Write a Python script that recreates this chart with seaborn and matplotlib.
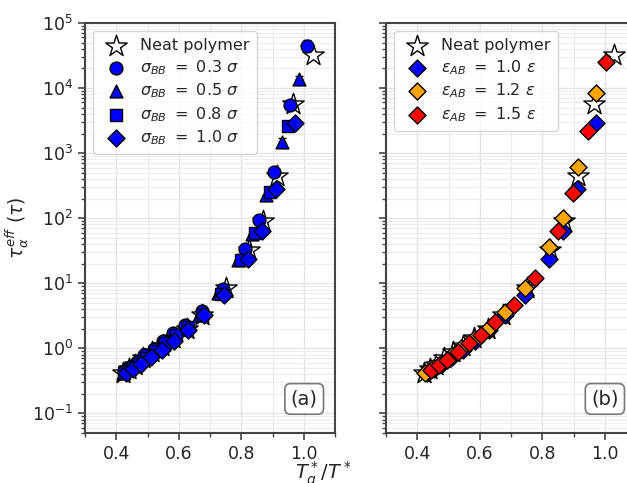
import matplotlib
matplotlib.use("Agg")
import matplotlib.pyplot as plt
import seaborn as sns
import numpy as np
import pandas as pd
from matplotlib.ticker import MultipleLocator, LogLocator, NullFormatter

# ---------------- data ----------------
neat_x = [0.42, 0.44, 0.46, 0.485, 0.515, 0.545, 0.58, 0.625, 0.675, 0.75, 0.825, 0.87, 0.915, 0.965, 1.03]
neat_y = [0.42, 0.48, 0.56, 0.70, 0.88, 1.1, 1.45, 2.0, 3.2, 8.5, 33, 90, 450, 5600, 32000]

s03_x = [0.425, 0.445, 0.465, 0.49, 0.52, 0.55, 0.58, 0.62, 0.675, 0.74, 0.81, 0.855, 0.905, 0.955, 1.01]
s03_y = [0.45, 0.52, 0.62, 0.78, 0.98, 1.3, 1.7, 2.3, 3.8, 8.3, 34, 95, 510, 5400, 45000]
s03_err = [0, 0, 0, 0, 0, 0, 0, 0, 0, 0, 0, 0, 0, 900, 9000]

s05_x = [0.42, 0.44, 0.46, 0.485, 0.51, 0.54, 0.575, 0.615, 0.665, 0.725, 0.79, 0.835, 0.88, 0.93, 0.985]
s05_y = [0.42, 0.48, 0.56, 0.70, 0.88, 1.15, 1.5, 2.0, 3.2, 7.0, 23, 58, 230, 1500, 14000]
s05_err = [0, 0, 0, 0, 0, 0, 0, 0, 0, 0, 0, 0, 0, 200, 1500]

s08_x = [0.425, 0.445, 0.47, 0.495, 0.525, 0.555, 0.59, 0.63, 0.675, 0.735, 0.80, 0.845, 0.89, 0.95]
s08_y = [0.42, 0.48, 0.57, 0.72, 0.90, 1.2, 1.6, 2.1, 3.2, 6.8, 23, 60, 250, 2600]

s10_x = [0.43, 0.455, 0.48, 0.51, 0.545, 0.585, 0.63, 0.68, 0.745, 0.82, 0.865, 0.91, 0.97]
s10_y = [0.42, 0.49, 0.58, 0.74, 0.95, 1.3, 1.9, 3.2, 6.6, 24, 64, 280, 2900]

e12_x = [0.425, 0.45, 0.48, 0.51, 0.54, 0.58, 0.625, 0.68, 0.745, 0.82, 0.865, 0.915, 0.97]
e12_y = [0.42, 0.50, 0.60, 0.78, 1.0, 1.4, 2.0, 3.6, 8.5, 36, 100, 620, 8500]

e15_x = [0.445, 0.47, 0.495, 0.53, 0.565, 0.605, 0.65, 0.71, 0.775, 0.85, 0.897, 0.945, 1.005]
e15_y = [0.46, 0.55, 0.67, 0.87, 1.2, 1.6, 2.5, 4.6, 12, 63, 240, 2200, 25000]

# ---------------- style ----------------
sns.set_style("whitegrid")
plt.rcParams["font.family"] = ["DejaVu Sans"]
plt.rcParams["mathtext.fontset"] = "dejavusans"

fig = plt.figure(figsize=(6.27, 4.83), dpi=100)
axA = fig.add_axes([0.1356, 0.1035, 0.399, 0.849])
axB = fig.add_axes([0.6156, 0.1035, 0.399, 0.849])

MS = 80
STAR = 260


def star(ax, x, y):
    sns.scatterplot(x=x, y=y, ax=ax, marker="*", s=STAR, color="white",
                    edgecolor="black", linewidth=1.0, label="Neat polymer", zorder=3)


def series(ax, x, y, marker, color, label, s=MS, z=4):
    sns.scatterplot(x=x, y=y, ax=ax, marker=marker, s=s, color=color,
                    edgecolor="black", linewidth=1.0, label=label, zorder=z)


# panel (a)
star(axA, neat_x, neat_y)
axA.errorbar(s03_x, s03_y, yerr=[np.zeros(len(s03_err)), s03_err], fmt="none",
             ecolor="black", capsize=3, elinewidth=1, zorder=2)
axA.errorbar(s05_x, s05_y, yerr=[np.zeros(len(s05_err)), s05_err], fmt="none",
             ecolor="black", capsize=3, elinewidth=1, zorder=2)
series(axA, s03_x, s03_y, "o", "blue", r"$\sigma_{BB}\ =\ 0.3\ \sigma$", s=85)
series(axA, s05_x, s05_y, "^", "blue", r"$\sigma_{BB}\ =\ 0.5\ \sigma$", s=85)
series(axA, s08_x, s08_y, "s", "blue", r"$\sigma_{BB}\ =\ 0.8\ \sigma$", s=75)
series(axA, s10_x, s10_y, "D", "blue", r"$\sigma_{BB}\ =\ 1.0\ \sigma$", s=75)

# panel (b)
star(axB, neat_x, neat_y)
series(axB, s10_x, s10_y, "D", "blue", r"$\varepsilon_{AB}\ =\ 1.0\ \varepsilon$", s=75)
series(axB, e12_x, e12_y, "D", "orange", r"$\varepsilon_{AB}\ =\ 1.2\ \varepsilon$", s=75)
series(axB, e15_x, e15_y, "D", "red", r"$\varepsilon_{AB}\ =\ 1.5\ \varepsilon$", s=75)

for ax, tag in [(axA, "(a)"), (axB, "(b)")]:
    ax.set_yscale("log")
    ax.set_xlim(0.3, 1.1)
    ax.set_ylim(0.05, 1e5)
    ax.xaxis.set_major_locator(MultipleLocator(0.2))
    ax.xaxis.set_minor_locator(MultipleLocator(0.1))
    ax.yaxis.set_major_locator(LogLocator(base=10, numticks=20))
    ax.yaxis.set_minor_locator(LogLocator(base=10, subs=np.arange(2, 10), numticks=20))
    ax.yaxis.set_minor_formatter(NullFormatter())
    ax.grid(True, which="major", color="#e4e4e4", linewidth=1.0)
    ax.grid(True, which="minor", color="#ececec", linewidth=0.8)
    ax.set_axisbelow(True)
    for sp in ax.spines.values():
        sp.set_color("#444444")
        sp.set_linewidth(1.5)
    ax.tick_params(axis="both", which="major", direction="out", length=5, width=1.2,
                   color="#444444", labelsize=12.5, left=True, bottom=True)
    ax.tick_params(axis="both", which="minor", direction="out", length=3, width=1.0,
                   color="#444444", left=True, bottom=True)
    ax.set_xlabel("")
    ax.set_ylabel("")
    ax.text(0.93, 0.06, tag, transform=ax.transAxes, ha="right", va="bottom", fontsize=14,
            bbox=dict(boxstyle="round,pad=0.3", facecolor="white", edgecolor="#777777", linewidth=1.2))
    leg = ax.legend(loc="upper left", fontsize=11.5, frameon=True, borderpad=0.45,
                    handletextpad=0.5, labelspacing=0.3, fancybox=True)
    leg.get_frame().set_edgecolor("#cccccc")

axB.tick_params(axis="y", which="both", labelleft=False)

axA.set_ylabel(r"$\tau_\alpha^{eff}\ (\tau)$", fontsize=13.5, labelpad=1)
fig.text(0.515, 0.048, r"$T_g^*/T^*$", ha="center", va="top", fontsize=14)

fig.savefig("out.png", dpi=100)
